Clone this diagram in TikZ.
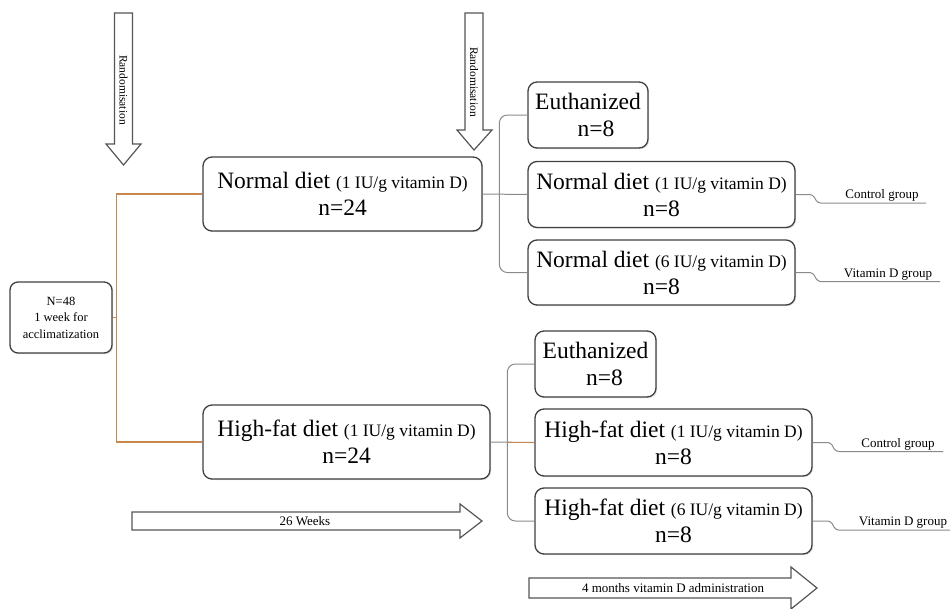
\documentclass[tikz,border=0pt]{standalone}
\usepackage{fontspec}
\setmainfont{Liberation Serif}
\usetikzlibrary{calc,shadows}

\definecolor{boxline}{HTML}{404040}
\definecolor{linkgray}{HTML}{8A8A8A}
\definecolor{linkorange}{HTML}{C8874E}
\definecolor{arrowline}{HTML}{555555}

\newcommand{\bigtxt}{\fontsize{23.5}{27}\selectfont}
\newcommand{\dose}[1]{{\fontsize{17.5}{27}\selectfont #1}}

\begin{document}
\begin{tikzpicture}[x=1pt, y=-1pt,
  diet/.style={draw=boxline, line width=1.3pt, rounded corners=9pt, fill=white, align=center, font=\bigtxt, inner sep=0pt,
    drop shadow={shadow xshift=1.2pt, shadow yshift=-1.2pt, opacity=0.25}},
  startbox/.style={diet, rounded corners=8pt, font=\fontsize{12.5}{16.5}\selectfont},
  link/.style={draw=linkgray, line width=1pt},
  olink/.style={draw=linkorange, line width=1.2pt},
  fatarrow/.style={draw=arrowline, line width=1.2pt, fill=white, line join=miter},
  arrowtxt/.style={inner sep=0pt, font=\fontsize{13}{15}\selectfont},
  grp/.style={inner sep=0pt, anchor=base, font=\fontsize{13}{15}\selectfont}]
  \useasboundingbox (0,0) rectangle (950,608);

  % randomisation arrows
  \draw[fatarrow] (114.5,13) -- (132.5,13) -- (132.5,144) -- (141,144) -- (123.5,165) -- (106,144) -- (114.5,144) -- cycle;
  \node[arrowtxt, rotate=-90, font=\fontsize{11.5}{13}\selectfont] (rand1) at (123.5,90) {Randomisation};
  \draw[fatarrow] (465,13) -- (483,13) -- (483,130) -- (492,130) -- (474,150) -- (457,130) -- (465,130) -- cycle;
  \node[arrowtxt, rotate=-90, font=\fontsize{11.5}{13}\selectfont] (rand2) at (474,82) {Randomisation};

  % time arrows
  \draw[fatarrow] (132,512) -- (460,512) -- (460,504) -- (482,521) -- (460,538) -- (460,530) -- (132,530) -- cycle;
  \node[arrowtxt] (weeks) at (305,521) {26 Weeks};
  \draw[fatarrow] (529,578) -- (791,578) -- (791,567) -- (817,588) -- (791,609) -- (791,598) -- (529,598) -- cycle;
  \node[arrowtxt] (months) at (673,588) {4 months vitamin D administration};

  \node[startbox, minimum width=102pt, minimum height=71pt] (start) at (61,317.5) {N=48\\1 week for\\acclimatization};

  \node[diet, minimum width=279pt, minimum height=74pt] (nd) at (342.5,194) {Normal diet \dose{(1 IU/g vitamin D)}\\n=24};
  \node[diet, minimum width=287pt, minimum height=74pt] (hf) at (346.5,442) {High-fat diet \dose{(1 IU/g vitamin D)}\\n=24};

  \node[diet, minimum width=120pt, minimum height=66pt] (eu1) at (588,115) {Euthanized\\\hspace*{16pt}n=8};
  \node[diet, minimum width=267pt, minimum height=66pt] (nd1) at (661.5,194.5) {Normal diet \dose{(1 IU/g vitamin D)}\\n=8};
  \node[diet, minimum width=267pt, minimum height=65pt] (nd6) at (661.5,272.5) {Normal diet \dose{(6 IU/g vitamin D)}\\n=8};

  \node[diet, minimum width=121pt, minimum height=66pt] (eu2) at (595.5,364) {Euthanized\\\hspace*{18pt}n=8};
  \node[diet, minimum width=277pt, minimum height=67pt] (hf1) at (673.5,442.5) {High-fat diet \dose{(1 IU/g vitamin D)}\\n=8};
  \node[diet, minimum width=277pt, minimum height=66pt] (hf6) at (673.5,521) {High-fat diet \dose{(6 IU/g vitamin D)}\\n=8};

  % split after acclimatization
  \draw[olink] (nd.west) -- ++(-86,0) |- (start.east);
  \draw[olink] (hf.west) -- ++(-86,0) |- (start.east);

  % split after 26 weeks
  \draw[link] (nd.east) -- (nd1.west);
  \draw[link, rounded corners=8pt] (eu1.west) -- ++(-28,0) |- (nd6.west);
  \draw[link] (hf.east) -- (hf1.west);
  \draw[olink] (hf1.west) -- ++(-27,0);
  \draw[link, rounded corners=8pt] (eu2.west) -- ++(-27,0) |- (hf6.west);

  % group labels
  \coordinate (ctl1) at (926,203);
  \coordinate (vit1) at (940,281.5);
  \coordinate (ctl2) at (943,451.5);
  \coordinate (vit2) at (950,530);
  \draw[link, rounded corners=3pt] (nd1.east) -- ++(17,0) -- ++(5,8.5) -- (ctl1);
  \draw[link, rounded corners=3pt] (nd6.east) -- ++(17,0) -- ++(5,9) -- (vit1);
  \draw[link, rounded corners=3pt] (hf1.east) -- ++(18,0) -- ++(5,9) -- (ctl2);
  \draw[link, rounded corners=3pt] (hf6.east) -- ++(18,0) -- ++(5,9) -- (vit2);
  \node[grp] (ctl1t) at (882,198) {Control group};
  \node[grp] (vit1t) at (888,277) {Vitamin D group};
  \node[grp] (ctl2t) at (898,447) {Control group};
  \node[grp] (vit2t) at (903,525.5) {Vitamin D group};
\end{tikzpicture}
\end{document}
